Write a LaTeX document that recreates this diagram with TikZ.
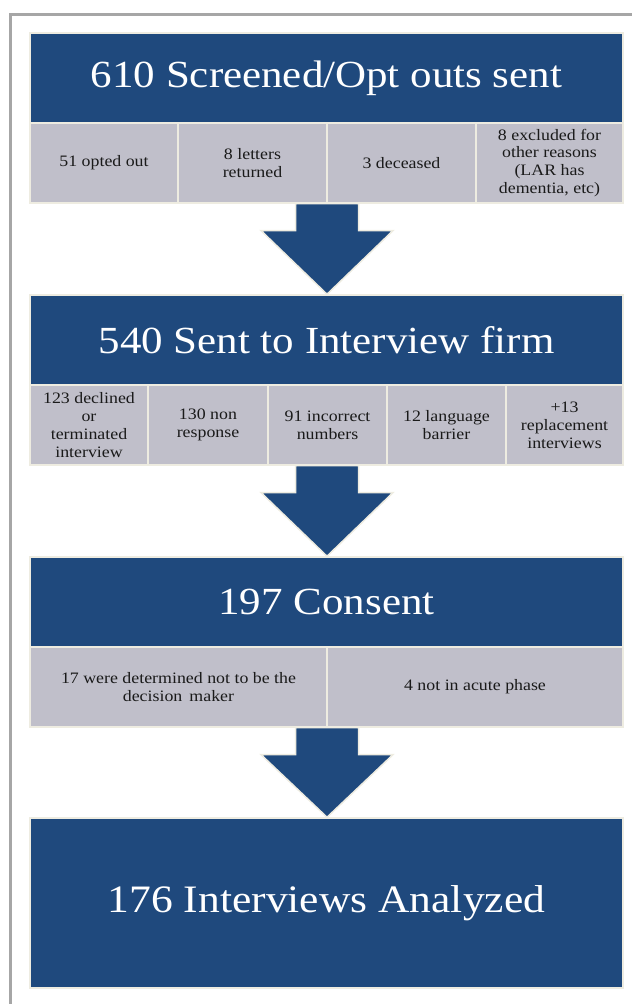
\documentclass[tikz,border=0pt]{standalone}
\usepackage{fontspec}
\setmainfont[FakeStretch=1.12]{Liberation Serif}
\usetikzlibrary{calc}
\definecolor{hdrblue}{HTML}{1F497D}
\definecolor{cellgray}{HTML}{C0BFCA}
\definecolor{cream}{HTML}{EEECE1}
\definecolor{framegray}{HTML}{A6A6A6}
\definecolor{txt}{HTML}{1A1A1A}
\tikzset{
  hdr/.style={fill=hdrblue, draw=cream, line width=1.5pt, text=white, inner sep=0pt,
    font=\fontsize{38.5}{44}\selectfont, minimum width=593bp, minimum height=90bp},
  cell/.style={fill=cellgray, draw=cream, line width=1.2pt, text=txt, inner sep=0pt,
    align=center, font=\fontsize{16}{18}\selectfont, minimum height=80bp},
  bigarrow/.style={fill=hdrblue, draw=cream, line width=1.5pt, line join=miter},
  framelin/.style={draw=framegray, line width=3bp}
}
\begin{document}
\begin{tikzpicture}[x=1bp,y=-1bp]
\useasboundingbox (0,0) rectangle (632,1004);
% frame
\coordinate (fa) at (10,1004);
\coordinate (fb) at (10,14);
\coordinate (fc) at (632,14);
\draw[framelin] (fa) -- (fb) -- (fc);

% box 1
\node[hdr] (h1) at (326.5,78) {610 Screened/Opt outs sent};
\node[cell, minimum width=148bp] (c11) at (104,163) {51 opted out};
\node[cell, minimum width=149bp] (c12) at (252.5,163) {8 letters\\returned};
\node[cell, minimum width=149bp] (c13) at (401.5,163) {3 deceased};
\node[cell, minimum width=147bp] (c14) at (549.5,163) {8 excluded for\\other reasons\\(LAR has\\dementia, etc)};

% box 2
\node[hdr] (h2) at (326.5,340) {540 Sent to Interview firm};
\node[cell, minimum width=118bp] (c21) at (89,425) {123 declined\\or\\terminated\\interview};
\node[cell, minimum width=120bp] (c22) at (208,425) {130 non\\response};
\node[cell, minimum width=119bp] (c23) at (327.5,425) {91 incorrect\\numbers};
\node[cell, minimum width=119bp] (c24) at (446.5,425) {12 language\\barrier};
\node[cell, minimum width=117bp] (c25) at (564.5,425) {+13\\replacement\\interviews};

% box 3
\node[hdr] (h3) at (326.5,602) {197 Consent};
\node[cell, minimum width=297bp] (c31) at (178.5,687) {17 were determined not to be the\\decision\, maker};
\node[cell, minimum width=296bp] (c32) at (475,687) {4 not in acute phase};

% box 4
\node[hdr, minimum height=170bp, font=\fontsize{39}{44}\selectfont] (h4) at (326.5,903) {176 Interviews Analyzed};

% arrows
\foreach \src/\dst in {c12/h2, c23/h3, c31/h4}{
  \coordinate (s) at (327,0 |- \src.south);
  \coordinate (t) at (327,0 |- \dst.north);
  \path[bigarrow] ($(s)+(-31.5,0)$) -- ($(s)+(31.5,0)$) -- ($(s)+(31.5,27)$) -- ($(s)+(66,27)$)
    -- (t) -- ($(s)+(-66,27)$) -- ($(s)+(-31.5,27)$) -- cycle;
}
\end{tikzpicture}
\end{document}
